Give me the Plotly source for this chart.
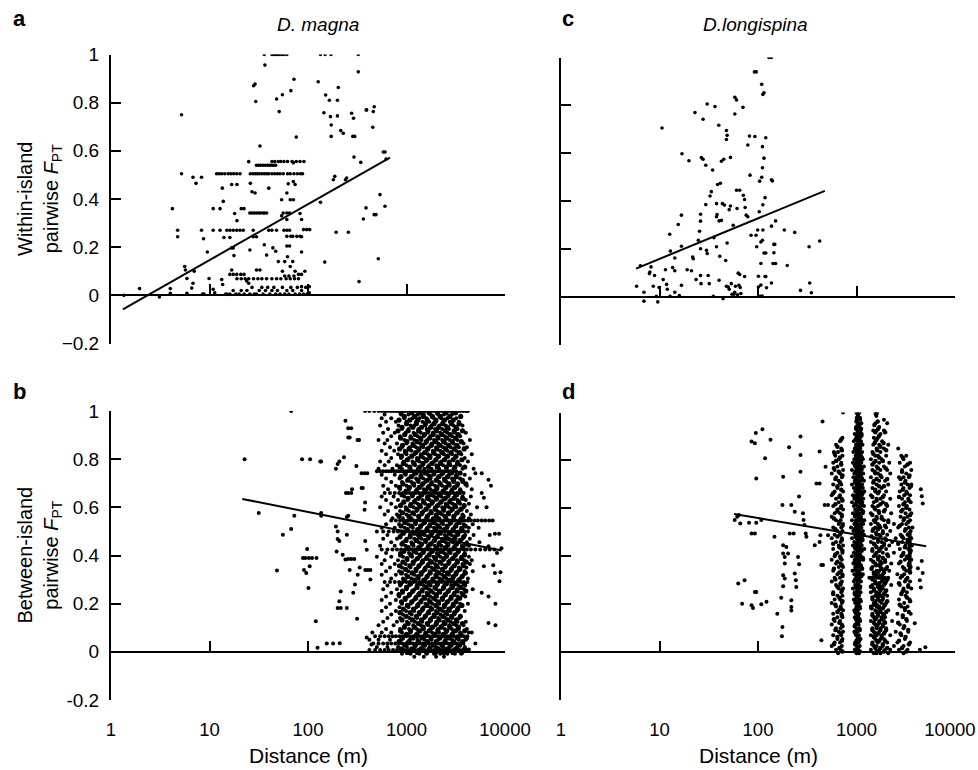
import plotly.graph_objects as go

# ---------------- DATA ----------------
# Panel a: D. magna, within-island (distance m, pairwise F_PT)
a_points = [
    (1.35, 0.0), (1.95, 0.028), (3.1, -0.007), (4.0, 0.028), (4.0, 0.008), (4.2, 0.36), (4.75, 0.27),
    (4.75, 0.243), (5.2, 0.75), (5.2, 0.505), (5.6, 0.12), (5.7, 0.105), (5.9, 0.07), (5.9, 0.008),
    (6.6, 0.03), (6.8, 0.49), (7.3, 0.465), (8.3, 0.49), (6.8, 0.05), (7.0, 0.1), (8.3, 0.27),
    (8.7, 0.235), (9.5, 0.18), (8.5, 0.005), (8.8, 0.005), (9.9, 0.07), (10.9, 0.025), (11.3, 0.01),
    (10.9, 0.36), (12.8, 0.36), (10.9, 0.27), (13.5, 0.445), (13.8, 0.39), (12.8, 0.27), (14, 0.24),
    (13.3, 0.066), (13.6, 0.045), (14.5, 0.004), (15, 0.27), (16.1, 0.27), (17.4, 0.27), (16.1, 0.24),
    (16.8, 0.46), (19, 0.46), (16.8, 0.197), (17.4, 0.197), (17.7, 0.165), (16.1, 0.087), (17.4, 0.087),
    (18.9, 0.087), (20.8, 0.087), (22.4, 0.087), (16.8, 0.105), (18, 0.34), (19, 0.31), (18.9, 0.27),
    (20.4, 0.27), (22, 0.27), (21, 0.36), (22.4, 0.36), (25, 0.555), (26, 0.465), (27, 0.43),
    (29, 0.425), (28, 0.87), (29, 0.877), (29.5, 0.805), (32.5, 0.62), (27.8, 0.243), (30, 0.243),
    (25.7, 0.188), (27.8, 0.27), (30, 0.105), (32.5, 0.105), (23.8, 0.06), (25, 0.05),
    (36, 1.0), (36.5, 0.956), (43, 1.0), (45, 1.0), (47, 1.0), (49, 1.0), (51, 1.0), (54, 1.0), (57, 1.0),
    (61, 1.0), (40, 0.445), (36, 0.21), (38, 0.167), (40, 0.27), (43, 0.27), (48, 0.27), (44, 0.197),
    (47, 0.183), (48, 0.815), (51, 0.763), (55, 0.833), (61, 0.425), (63, 0.463), (54, 0.397),
    (66, 0.397), (71, 0.397), (56, 0.342), (61, 0.342), (65, 0.342), (54, 0.33), (61, 0.315),
    (57, 0.27), (61, 0.27), (65, 0.27), (61, 0.245), (67, 0.245), (61, 0.205), (65, 0.205),
    (71, 0.55), (67, 0.85), (72, 0.897), (76, 0.657), (74, 0.46), (71, 0.472), (70, 0.245),
    (77, 0.245), (83, 0.245), (86, 0.243), (83, 0.34), (86, 0.315), (86, 0.18), (90, 0.273),
    (97, 0.273), (104, 0.273), (93, 0.1), (86, 0.087), (80, 0.087), (86, 0.036), (103, 0.036),
    (103, 0.01), (55, 0.1), (58, 0.14), (62, 0.16), (66, 0.12), (70, 0.14), (74, 0.1), (50, 0.14),
    (58, 0.08), (64, 0.08), (72, 0.08),
    (127, 0.887), (134, 1.0), (149, 1.0), (171, 1.0), (134, 0.386), (145, 0.758), (151, 0.832),
    (148, 0.138), (165, 0.81), (169, 0.742), (172, 0.707), (172, 0.66), (181, 0.48), (187, 0.494),
    (193, 0.262), (199, 0.745), (199, 0.81), (203, 0.863), (215, 0.684), (228, 0.673), (240, 0.48),
    (247, 0.487), (257, 0.262), (277, 0.756), (290, 0.735), (285, 0.66), (298, 0.66), (293, 0.574),
    (324, 1.0), (324, 0.928), (330, 0.057), (343, 0.552), (365, 0.317), (388, 0.363), (390, 0.77),
    (394, 0.77), (455, 0.698), (460, 0.763), (470, 0.783), (470, 0.335), (490, 0.335), (517, 0.152),
    (538, 0.418), (582, 0.595), (605, 0.595), (605, 0.37), (620, 0.566),
]
# horizontal runs of identical F_PT values in panel a: (F_PT, distances)
a_rows = [
    (0.505, [11.8, 12.5, 13.3, 14.3, 15.5, 16.5, 17.6, 18.9, 20.4, 26, 27.5, 29, 30.5, 32, 34, 36, 38,
             40, 43, 46, 49, 52, 56, 62, 66, 72, 78, 84, 88]),
    (0.54, [30, 31.5, 33, 35, 37, 39, 41, 43, 45, 47]),
    (0.556, [43, 46, 50, 53, 57, 62, 69, 76, 83, 91]),
    (0.342, [25.7, 27, 28.5, 30, 31.5, 33, 35, 36, 38]),
    (0.069, [19, 21, 23, 25, 28, 31, 34, 38, 43, 48, 53, 60, 66, 73, 80]),
    (0.005, [15, 16.1, 18.5, 20, 22.5, 25.7, 28.5, 30, 35, 41, 47, 52, 58, 64, 74, 82, 90, 98]),
    (0.02, [17.4, 21, 24, 32, 37, 43, 49, 61, 70, 86]),
    (0.033, [27, 34, 39, 45, 55, 67, 78, 95]),
]
a_fit_x = [1.32, 680]
a_fit_y = [-0.058, 0.572]

# Panel c: D. longispina, within-island
c_points = [
    (5.85, 0.045), (6.4, 0.131), (6.95, 0.02), (6.95, -0.017), (8.0, 0.105), (7.9, 0.098), (8.2, 0.126),
    (8.65, 0.045), (8.9, 0.09), (9.3, 0.003), (9.6, -0.02), (9.9, 0.04), (10.6, 0.706), (10.9, 0.073),
    (11.5, 0.114), (11.8, 0.053), (12.0, 0.033), (12.7, 0.262), (12.8, 0.003), (12.9, 0.192),
    (13.6, 0.123), (14.3, 0.11), (14.3, 0.163), (14.3, 0.02), (15.5, 0.303), (15.9, 0.006),
    (16.7, 0.342), (16.7, 0.212), (16.7, 0.049), (16.9, 0.598), (19.1, 0.114), (19.9, 0.569),
    (21.1, 0.11), (21.7, 0.167), (22, 0.16), (22.9, 0.77), (23.5, 0.073), (24.8, 0.237), (25.5, 0.275),
    (26.1, 0.346), (26.1, 0.317), (26.1, 0.202), (26.1, 0.09), (26.4, 0.056), (26.6, 0.582),
    (27.7, 0.575), (27.7, 0.742), (29.5, 0.55), (29.5, 0.386), (30, 0.195), (30.5, 0.182),
    (30.5, 0.806), (31.2, 0.09), (32, 0.056), (32.6, 0.422), (33.6, 0.44), (34.6, 0.53), (35.7, 0.248),
    (35.2, 0.003), (36.6, 0.795), (37.9, 0.335), (38.4, 0.345), (37.9, 0.39), (37.9, 0.21),
    (38.9, 0.47), (41.5, 0.475), (40, 0.717), (40.3, 0.318), (42.5, 0.32), (40.3, 0.07), (40.9, 0.17),
    (42.5, 0.567), (44.9, 0.575), (43.5, 0.39), (45.6, 0.384), (44.2, -0.007), (47, 0.153),
    (47.8, 0.045), (47.8, 0.695), (48.6, 0.675), (47.8, 0.658), (48.6, 0.226), (50, 0.042),
    (51, 0.033), (51, 0.365), (52.5, 0.38), (52.5, 0.583), (53.6, 0.056), (54.4, 0.012), (56, 0.3),
    (57, 0.012), (59, 0.045), (58.2, 0.834), (60.5, 0.823), (58.2, 0.764), (60.5, 0.446),
    (65.2, 0.446), (61.3, 0.37), (63, 0.1), (65.2, 0.094), (64, 0.049), (66, 0.04), (70.4, 0.792),
    (71, 0.425), (73, 0.407), (73.1, 0.086), (74, 0.374), (75.9, 0.342), (78.8, 0.335), (78.8, 0.635),
    (81.9, 0.672), (83, 0.509), (85, 0.258), (92, 0.94), (96, 0.94), (93, 0.67), (95.5, 0.258),
    (97, 0.21), (99.2, 0.28), (101, 0.042), (101, 0.087), (103, 0.356), (104, 0.484), (107, 0.23),
    (107, 0.14), (107, 0.05), (109, 0.888), (111, 0.628), (109, 0.5), (111, 0.54), (112, 0.385),
    (112, 0.28), (111, 0.237), (112, 0.846), (115, 0.853), (115, 0.58), (120, 0.665), (115, 0.184),
    (120, 0.184), (118, 0.415), (118, 0.086), (120, 0.086), (122, 0.039), (129, 1.0), (137, 1.0),
    (137, 0.49), (140, 0.485), (137, 0.296), (137, 0.059), (142, 0.14), (151, 0.14), (145, 0.22),
    (148, 0.22), (145, 0.185), (151, 0.318), (185, 0.28), (198, 0.132), (236, 0.27), (270, 0.028),
    (330, 0.21), (335, 0.059), (348, 0.018), (423, 0.234), (105, 0.003), (110, 0.004), (67, 0.015),
    (62, 0.01), (58, 0.02),
]
c_fit_x = [5.77, 477]
c_fit_y = [0.119, 0.443]

# Panel b: D. magna, between-island
b_points = [
    (22.7, 0.8), (31.6, 0.576), (48.4, 0.338), (55.6, 0.486), (67.5, 1.0), (67.5, 0.51), (72.6, 0.565),
    (87, 0.8), (105, 0.8), (89, 0.39), (94, 0.39), (102, 0.39), (110, 0.39), (98, 0.427), (91, 0.34),
    (96, 0.327), (104, 0.355), (122, 0.39), (101, 0.265), (120, 0.127), (125, 0.017), (133, 0.79),
    (136, 0.79), (136, 0.576), (136, 0.565), (155, 0.035), (180, 0.035), (210, 0.036), (192, 0.76),
    (200, 0.78), (208, 0.79), (192, 0.52), (200, 0.5), (195, 0.417), (200, 0.468), (208, 0.46),
    (200, 0.182), (215, 0.182), (208, 0.21), (215, 0.25), (225, 0.403), (232, 0.808), (240, 0.383),
    (240, 0.96), (248, 0.182), (256, 0.928), (275, 0.928), (256, 0.89), (265, 0.89), (243, 0.66),
    (256, 0.66), (248, 0.56), (256, 0.565), (248, 0.486), (256, 0.385), (275, 0.385), (295, 0.385),
    (265, 0.34), (275, 0.66), (280, 0.675), (288, 0.245), (310, 0.772), (315, 0.137), (318, 0.88),
    (330, 0.88), (320, 0.32), (300, 0.28), (350, 0.742), (375, 0.742), (400, 0.742), (350, 0.68),
    (360, 0.68), (375, 0.59), (380, 0.62), (381, 0.46), (395, 0.424), (381, 0.34), (405, 0.34),
    (430, 0.34), (335, 0.35), (395, 0.06), (420, 0.05), (440, 0.03), (430, 0.3), (450, 0.08),
    (5000, 0.742), (5800, 0.742), (6800, 0.715), (7200, 0.69), (5800, 0.66), (6100, 0.64), (6500, 0.6),
    (7900, 0.49), (8700, 0.49), (6800, 0.438), (8300, 0.41), (6100, 0.355), (7900, 0.327),
    (8800, 0.293), (5800, 0.245), (6800, 0.23), (8000, 0.2), (6800, 0.12), (4600, 0.08), (5000, 0.035),
    (4300, 0.01), (8000, 0.11), (9200, 0.43), (9000, 0.33), (7600, 0.36),
]
b_rows = [
    (1.0, [380, 420, 470, 520, 560, 600, 640, 690, 740, 790, 840, 900, 960, 1020, 1090, 1160, 1240, 1320,
           1400, 1490, 1580, 1680, 1790, 1900, 2020, 2150, 2290, 2430, 2580, 2740, 2910, 3100, 3300, 3500,
           3750, 4000, 4200]),
    (0.985, [600, 880, 1050, 1300, 1500, 1750, 2100, 2400, 2900]),
    (0.97, [560, 700, 950, 1150, 1350, 1600, 1900, 2250, 2600, 3200]),
    (0.955, [620, 780, 1000, 1250, 1450, 1700, 2000, 2350, 2750, 3400]),
    (0.94, [540, 830, 1100, 1200, 1550, 1800, 2150, 2500, 3000, 3700]),
    (0.925, [650, 900, 1050, 1320, 1600, 1950, 2300, 2700, 3300]),
    (0.91, [580, 760, 980, 1180, 1400, 1650, 1850, 2200, 2600, 3100, 4000]),
    (0.895, [700, 860, 1100, 1300, 1500, 1750, 2050, 2450, 2900, 3500]),
    (0.88, [520, 640, 950, 1200, 1420, 1620, 1900, 2300, 2750, 3300, 4400]),
    (0.865, [600, 800, 1000, 1150, 1380, 1550, 1800, 2100, 2500, 3000, 3800]),
    (0.85, [680, 900, 1080, 1250, 1480, 1700, 2000, 2350, 2800, 3400, 4100]),
    (0.835, [560, 750, 960, 1120, 1320, 1600, 1850, 2200, 2600, 3200]),
    (0.82, [620, 820, 1000, 1200, 1400, 1650, 1950, 2400, 2900, 3600, 4600]),
    (0.805, [700, 880, 1060, 1280, 1500, 1750, 2050, 2500, 3100, 3900]),
    (0.79, [540, 660, 940, 1150, 1350, 1580, 1900, 2250, 2700, 3300, 4200]),
    (0.775, [600, 800, 1000, 1220, 1450, 1700, 2000, 2350, 2800, 3500]),
    (0.76, [520, 720, 900, 1100, 1300, 1520, 1800, 2150, 2550, 3000, 3700, 4800]),
    (0.75, [500, 540, 580, 620, 660, 700, 750, 800, 850, 900, 960, 1020, 1080, 1150, 1220, 1300, 1380,
            1460, 1550, 1650, 1750, 1850, 1960, 2080, 2200, 2350, 2500, 2650, 2800, 3000, 3200]),
    (0.735, [560, 760, 980, 1180, 1400, 1650, 1900, 2250, 2700, 3200, 3900]),
    (0.72, [620, 850, 1050, 1250, 1480, 1750, 2050, 2400, 2900, 3500, 4400]),
    (0.705, [700, 900, 1120, 1320, 1550, 1800, 2150, 2550, 3000, 3700]),
    (0.69, [580, 780, 1000, 1200, 1420, 1680, 1950, 2300, 2750, 3300, 4100]),
    (0.675, [650, 860, 1060, 1280, 1500, 1750, 2050, 2450, 2900, 3500, 4600]),
    (0.66, [600, 680, 760, 840, 920, 1000, 1080, 1160, 1250, 1340, 1440, 1540, 1650, 1760, 1880, 2000,
            2150, 2300, 2450, 2600, 2800, 3000, 3250, 3500, 3800]),
    (0.645, [560, 740, 950, 1150, 1380, 1620, 1900, 2250, 2650, 3100, 3700, 4500]),
    (0.63, [620, 820, 1030, 1230, 1460, 1720, 2000, 2350, 2800, 3300, 4000]),
    (0.615, [700, 900, 1100, 1300, 1550, 1820, 2150, 2500, 2950, 3500, 4300]),
    (0.6, [540, 780, 980, 1180, 1400, 1650, 1950, 2300, 2700, 3200, 3800, 5200]),
    (0.585, [650, 860, 1060, 1270, 1500, 1760, 2050, 2400, 2850, 3400, 4100]),
    (0.57, [600, 800, 1000, 1200, 1430, 1680, 1980, 2300, 2700, 3150, 3700, 4500]),
    (0.555, [720, 920, 1120, 1340, 1580, 1850, 2150, 2550, 3000, 3550, 4300]),
    (0.545, [700, 780, 860, 940, 1020, 1100, 1190, 1280, 1380, 1480, 1590, 1700, 1820, 1950, 2090, 2240,
             2400, 2570, 2750, 2950, 3150, 3400, 3650, 3900, 4200, 4500, 4900, 5300, 5800, 6300, 6900, 7500]),
    (0.53, [620, 840, 1040, 1240, 1460, 1720, 2000, 2350, 2750, 3200, 3800, 4700]),
    (0.515, [560, 760, 960, 1160, 1380, 1620, 1900, 2200, 2600, 3050, 3600, 4300, 5400]),
    (0.5, [500, 580, 660, 740, 820, 900, 980, 1060, 1150, 1250, 1350, 1460, 1580, 1700, 1830, 1970, 2120,
           2280, 2450, 2640, 2850, 3080, 3320, 3580, 3860, 4200]),
    (0.485, [640, 880, 1080, 1290, 1520, 1780, 2080, 2450, 2850, 3350, 3950, 4800, 7000]),
    (0.47, [580, 800, 1000, 1200, 1420, 1680, 1960, 2300, 2700, 3150, 3700, 4400]),
    (0.455, [700, 920, 1120, 1330, 1570, 1830, 2150, 2500, 2950, 3450, 4100, 5500]),
    (0.44, [540, 760, 980, 1180, 1400, 1650, 1930, 2260, 2650, 3100, 3650, 4300]),
    (0.425, [560, 640, 720, 800, 880, 960, 1040, 1130, 1220, 1320, 1420, 1530, 1650, 1780, 1920, 2070,
             2230, 2400, 2580, 2780, 3000, 3250, 3500, 3800, 4100, 4500, 5000, 5600, 6300, 7000, 7800]),
    (0.41, [620, 860, 1060, 1260, 1490, 1750, 2040, 2400, 2800, 3300, 3900]),
    (0.395, [500, 700, 920, 1140, 1360, 1600, 1880, 2200, 2580, 3050, 3600, 4300]),
    (0.38, [600, 820, 1020, 1230, 1460, 1720, 2000, 2350, 2750, 3250, 3850, 4600]),
    (0.365, [560, 760, 980, 1180, 1400, 1660, 1950, 2280, 2680, 3150, 3700, 4400]),
    (0.35, [680, 900, 1100, 1310, 1550, 1800, 2100, 2480, 2900, 3400, 4050]),
    (0.335, [620, 840, 1040, 1250, 1480, 1730, 2020, 2380, 2800, 3300, 3900, 4700]),
    (0.32, [560, 780, 990, 1200, 1420, 1670, 1960, 2300, 2700, 3200, 3800]),
    (0.305, [700, 920, 1120, 1330, 1570, 1840, 2160, 2540, 2980, 3500, 4200]),
    (0.29, [600, 680, 760, 840, 920, 1000, 1080, 1170, 1260, 1360, 1460, 1570, 1690, 1820, 1960, 2110,
            2270, 2440, 2620, 2820, 3040, 3280, 3540, 3820, 4150]),
    (0.275, [640, 860, 1060, 1270, 1500, 1760, 2060, 2420, 2840, 3350, 3950]),
    (0.26, [580, 800, 1000, 1210, 1440, 1700, 2000, 2340, 2750, 3250, 3850, 4700]),
    (0.245, [700, 920, 1130, 1350, 1600, 1870, 2200, 2580, 3050, 3600]),
    (0.23, [620, 840, 1040, 1250, 1480, 1740, 2040, 2400, 2820, 3320, 3950]),
    (0.215, [560, 780, 980, 1190, 1420, 1680, 1980, 2330, 2740, 3220]),
    (0.2, [680, 900, 1100, 1320, 1560, 1830, 2150, 2520, 2960, 3500, 4200]),
    (0.185, [620, 850, 1050, 1260, 1490, 1750, 2060, 2420, 2850, 3350]),
    (0.17, [560, 780, 990, 1200, 1430, 1690, 1990, 2340, 2760, 3250, 3900]),
    (0.155, [700, 920, 1130, 1350, 1600, 1880, 2210, 2600, 3060]),
    (0.14, [640, 860, 1070, 1280, 1520, 1790, 2100, 2480, 2920, 3450]),
    (0.125, [580, 800, 1010, 1220, 1450, 1710, 2010, 2370, 2800, 3300, 4000]),
    (0.11, [520, 740, 960, 1170, 1400, 1660, 1960, 2310, 2720, 3200, 3800]),
    (0.095, [620, 860, 1060, 1270, 1500, 1760, 2070, 2440, 2880, 3400, 4100]),
    (0.08, [560, 700, 900, 1100, 1310, 1550, 1820, 2140, 2520, 2970, 3500, 4300]),
    (0.065, [480, 540, 600, 660, 720, 780, 850, 920, 1000, 1080, 1170, 1260, 1360, 1460, 1570, 1690, 1820,
             1960, 2110, 2270, 2440, 2620, 2820, 3040, 3280, 3540, 3820, 4150]),
    (0.05, [520, 680, 880, 1080, 1290, 1520, 1790, 2100, 2470, 2900, 3400, 4000]),
    (0.035, [460, 520, 580, 640, 700, 770, 840, 910, 990, 1070, 1160, 1250, 1350, 1450, 1560, 1680, 1810,
             1950, 2100, 2260, 2430, 2610, 2810, 3020, 3250, 3500, 3780]),
    (0.02, [500, 640, 820, 1010, 1220, 1450, 1710, 2000, 2350, 2750, 3250, 3900]),
    (0.008, [420, 480, 540, 600, 660, 730, 800, 870, 950, 1030, 1120, 1210, 1310, 1410, 1520, 1640, 1770,
             1910, 2060, 2220, 2390, 2570, 2770, 2980, 3210, 3460, 3730, 4050]),
    (-0.008, [900, 1100, 1350, 1600, 1900, 2200, 2600, 3100, 3600]),
    (-0.02, [1200, 1500, 2000, 2400]),
]
# extra points of the dense core of panel b, between the rows above
b_core_rows = [
    (0.9925, [880, 1130, 1380, 1700, 2060, 2520, 3150]), (0.9775, [950, 1210, 1480, 1830, 2200, 2750, 3550]),
    (0.9625, [840, 1080, 1300, 1620, 1990, 2430, 2980]), (0.9475, [1000, 1260, 1560, 1900, 2330, 2860, 3420]),
    (0.9325, [900, 1160, 1420, 1760, 2120, 2600, 3200]), (0.9175, [820, 1040, 1330, 1650, 2010, 2480, 3050, 3700]),
    (0.9025, [960, 1230, 1520, 1860, 2270, 2790, 3350]), (0.8875, [870, 1110, 1390, 1720, 2090, 2560, 3150]),
    (0.8725, [1010, 1280, 1590, 1960, 2390, 2920, 3600]), (0.8575, [910, 1170, 1450, 1790, 2180, 2680, 3250]),
    (0.8425, [850, 1060, 1340, 1640, 2030, 2500, 3050, 3850]), (0.8275, [980, 1240, 1530, 1880, 2300, 2830, 3450]),
    (0.8125, [890, 1130, 1410, 1730, 2120, 2610, 3180]), (0.7975, [1020, 1300, 1610, 1990, 2430, 2970, 3650]),
    (0.7825, [930, 1190, 1470, 1810, 2210, 2710, 3300]), (0.7675, [860, 1080, 1360, 1670, 2060, 2540, 3100, 3900]),
    (0.7425, [970, 1250, 1550, 1900, 2330, 2860, 3500]), (0.7275, [880, 1120, 1400, 1740, 2130, 2620, 3200]),
    (0.7125, [1030, 1310, 1620, 2000, 2450, 3000, 3700]), (0.6975, [920, 1180, 1460, 1800, 2200, 2700, 3300, 4000]),
    (0.6825, [850, 1070, 1350, 1660, 2040, 2510, 3080]), (0.6675, [990, 1260, 1560, 1920, 2350, 2880, 3520]),
    (0.6525, [900, 1150, 1430, 1760, 2150, 2650, 3230]), (0.6375, [1040, 1320, 1640, 2020, 2470, 3030, 3720]),
    (0.6225, [940, 1200, 1490, 1830, 2240, 2750, 3380]), (0.6075, [870, 1100, 1370, 1690, 2070, 2550, 3120, 3850]),
    (0.5925, [1000, 1280, 1580, 1950, 2380, 2920, 3580]), (0.5775, [910, 1160, 1440, 1780, 2170, 2670, 3270]),
    (0.5625, [840, 1060, 1330, 1630, 2000, 2470, 3020, 3750]), (0.5375, [960, 1230, 1520, 1870, 2290, 2810, 3430]),
    (0.5225, [880, 1120, 1390, 1720, 2100, 2590, 3170, 3950]), (0.5075, [1020, 1300, 1610, 1980, 2420, 2970, 3640]),
    (0.4925, [930, 1190, 1470, 1810, 2210, 2720, 3320]), (0.4775, [860, 1090, 1360, 1680, 2050, 2530, 3090, 3800]),
    (0.4625, [990, 1260, 1560, 1920, 2340, 2870, 3510]), (0.4475, [900, 1150, 1420, 1750, 2140, 2640, 3220, 4000]),
    (0.4325, [1040, 1330, 1650, 2030, 2480, 3040, 3730]), (0.4175, [940, 1200, 1490, 1830, 2240, 2750, 3370]),
    (0.4025, [870, 1110, 1380, 1700, 2080, 2560, 3130, 3880]), (0.3875, [1010, 1290, 1590, 1960, 2400, 2940, 3600]),
    (0.3725, [920, 1170, 1450, 1790, 2190, 2690, 3290, 4050]), (0.3575, [850, 1080, 1340, 1650, 2020, 2490, 3050, 3760]),
    (0.3425, [980, 1250, 1540, 1900, 2320, 2850, 3480]), (0.3275, [890, 1140, 1410, 1740, 2120, 2610, 3190, 3950]),
    (0.3125, [1030, 1310, 1620, 2000, 2440, 2990, 3670]), (0.2975, [950, 1210, 1500, 1850, 2260, 2770, 3400]),
    (0.2825, [870, 1100, 1370, 1690, 2060, 2540, 3110, 3840]), (0.2675, [1000, 1280, 1580, 1950, 2380, 2920, 3570]),
    (0.2525, [910, 1160, 1440, 1770, 2170, 2660, 3260, 4000]), (0.2375, [840, 1070, 1330, 1640, 2010, 2480, 3030, 3740]),
    (0.2225, [970, 1240, 1530, 1890, 2310, 2830, 3460]), (0.2075, [890, 1130, 1400, 1730, 2110, 2600, 3180]),
    (0.1925, [1020, 1300, 1610, 1990, 2430, 2980, 3650]), (0.1775, [930, 1180, 1460, 1800, 2200, 2700, 3310]),
    (0.1625, [860, 1090, 1350, 1670, 2040, 2520, 3080]), (0.1475, [990, 1260, 1550, 1910, 2340, 2870, 3520]),
    (0.1325, [900, 1150, 1420, 1750, 2140, 2630, 3220]), (0.1175, [1040, 1320, 1630, 2010, 2460, 3020, 3700]),
    (0.1025, [950, 1200, 1480, 1830, 2240, 2750, 3370]), (0.0875, [870, 1100, 1370, 1700, 2080, 2560, 3140, 3900]),
    (0.0725, [1000, 1270, 1570, 1940, 2370, 2910, 3560]), (0.0575, [910, 1160, 1440, 1780, 2180, 2680, 3280, 4050]),
    (0.0425, [840, 1060, 1320, 1630, 2000, 2460, 3010, 3720]), (0.0275, [970, 1230, 1520, 1880, 2300, 2820, 3450]),
    (0.0125, [890, 1130, 1400, 1720, 2100, 2590, 3170, 3900]), (-0.0025, [1020, 1290, 1600, 1970, 2410, 2960, 3630]),
]
b_fit_x = [21.5, 9250]
b_fit_y = [0.635, 0.421]

# Panel d: D. longispina, between-island
d_points = [
    (61.5, 0.565), (58, 0.551), (66, 0.537), (64, 0.572), (63, 0.286), (73, 0.3), (69, 0.202), (86, 0.195),
    (89, 0.184), (81, 0.54), (96, 0.54), (86, 0.495), (93, 0.495), (86, 0.879), (93, 0.872), (95, 0.914),
    (96, 0.725), (93, 0.251), (96, 0.251), (108, 0.551), (108, 0.2), (122, 0.21), (111, 0.93),
    (118, 0.809), (134, 0.886), (147, 0.481), (157, 0.16), (172, 0.227), (177, 0.105), (175, 0.066),
    (177, 0.614), (180, 0.732), (180, 0.446), (187, 0.397), (180, 0.411), (194, 0.439), (202, 0.411),
    (187, 0.37), (180, 0.321), (187, 0.307), (180, 0.275), (207, 0.855), (210, 0.495), (230, 0.495),
    (218, 0.614), (236, 0.586), (218, 0.216), (218, 0.188), (218, 0.174), (236, 0.328), (242, 0.3),
    (245, 0.272), (255, 0.397), (261, 0.367), (261, 0.649), (270, 0.9), (270, 0.823), (270, 0.753),
    (286, 0.579), (290, 0.551), (296, 0.53), (305, 0.495), (310, 0.481), (377, 0.446), (392, 0.704),
    (422, 0.704), (422, 0.837), (430, 0.488), (422, 0.46), (452, 0.962), (440, 0.049), (440, 0.363),
    (457, 0.363), (475, 0.614), (514, 0.614), (485, 0.774), (514, 0.488),
    (4600, 0.65), (4700, 0.62), (4500, 0.68), (4200, 0.35), (4600, 0.38), (4400, 0.3), (5000, 0.02),
    (4400, 0.01), (3900, 0.12), (4700, 0.33), (4500, 0.27),
]
d_rows = [
    (1.0, [730, 1000, 1070, 1560, 1620]), (0.985, [1040, 1590]), (0.97, [1010, 1090, 1900]),
    (0.955, [1050, 1120, 1560, 2050]), (0.94, [990, 1060, 1700]), (0.925, [1020, 1100, 1480, 1600, 1900]),
    (0.91, [960, 1050, 1130, 1750]), (0.895, [720, 1000, 1080, 1500, 1650]),
    (0.88, [680, 940, 1030, 1110, 1560, 1820]), (0.865, [620, 990, 1060, 1150, 1480, 1700, 2100]),
    (0.85, [700, 960, 1020, 1090, 1600, 1900, 2650]), (0.835, [590, 650, 930, 1000, 1070, 1140, 1450, 1750]),
    (0.82, [610, 720, 980, 1040, 1110, 1550, 1650, 2000, 2850, 3200]),
    (0.805, [660, 950, 1010, 1080, 1160, 1400, 1800, 3000]),
    (0.79, [580, 700, 920, 990, 1050, 1120, 1500, 1700, 2150, 2750, 3500]),
    (0.775, [640, 970, 1030, 1100, 1190, 1600, 1900, 3100]),
    (0.76, [600, 730, 900, 1000, 1060, 1130, 1450, 1750, 2050, 2900, 3600]),
    (0.745, [560, 680, 950, 1020, 1090, 1170, 1550, 1650, 2200, 3200]),
    (0.73, [620, 710, 930, 990, 1050, 1120, 1400, 1800, 2700, 3000, 3400]),
    (0.715, [660, 960, 1030, 1100, 1190, 1500, 1700, 1950, 3150]),
    (0.7, [580, 700, 900, 1000, 1070, 1140, 1600, 2100, 2850, 3300, 3600]),
    (0.685, [640, 940, 1010, 1080, 1160, 1450, 1800, 3000, 3450]),
    (0.67, [600, 730, 970, 1040, 1110, 1200, 1550, 1700, 2000, 2750, 3200]),
    (0.655, [560, 680, 920, 990, 1060, 1130, 1400, 1900, 3050, 3500]),
    (0.64, [620, 710, 950, 1020, 1090, 1170, 1600, 1750, 2200, 2900, 3350]),
    (0.625, [660, 900, 1000, 1070, 1140, 1500, 1850, 3100, 3550]),
    (0.61, [580, 700, 940, 1030, 1100, 1190, 1450, 1650, 2050, 2700, 3250]),
    (0.595, [640, 730, 970, 1050, 1120, 1550, 1950, 2950, 3450]),
    (0.58, [600, 680, 920, 1010, 1080, 1160, 1400, 1700, 2250, 3150, 3600]),
    (0.565, [560, 710, 960, 1040, 1110, 1600, 1800, 2800, 3300]),
    (0.55, [620, 690, 900, 990, 1060, 1130, 1200, 1500, 1900, 2100, 3000, 3500]),
    (0.535, [660, 730, 950, 1020, 1090, 1170, 1400, 1650, 2400, 2900, 3200]),
    (0.52, [580, 700, 880, 980, 1050, 1120, 1550, 1750, 2000, 2650, 3400, 3700]),
    (0.505, [640, 720, 930, 1010, 1080, 1160, 1450, 1850, 2200, 3100, 3550]),
    (0.49, [600, 680, 970, 1040, 1110, 1190, 1600, 1700, 2050, 2800, 3300]),
    (0.475, [560, 710, 900, 1000, 1070, 1140, 1500, 1950, 2500, 3000, 3600]),
    (0.46, [620, 690, 950, 1030, 1100, 1400, 1650, 1800, 2300, 2900, 3450]),
    (0.445, [660, 730, 920, 990, 1060, 1130, 1550, 1900, 2150, 3150, 3650]),
    (0.43, [580, 700, 970, 1050, 1120, 1200, 1450, 1750, 2000, 2750, 3350]),
    (0.415, [640, 720, 940, 1010, 1080, 1600, 1850, 2400, 3000, 3500]),
    (0.4, [600, 680, 900, 980, 1040, 1110, 1500, 1700, 2100, 2850, 3250]),
    (0.385, [560, 710, 960, 1030, 1100, 1170, 1400, 1650, 1950, 3100, 3600]),
    (0.37, [620, 690, 930, 1000, 1070, 1550, 1800, 2250, 2700, 3400]),
    (0.355, [660, 730, 970, 1050, 1120, 1450, 1750, 2050, 2950, 3550]),
    (0.34, [580, 700, 910, 990, 1060, 1600, 1700, 1900, 2150, 3200]),
    (0.325, [640, 720, 950, 1020, 1090, 1160, 1500, 1850, 2600, 3050]),
    (0.31, [600, 680, 1000, 1080, 1350, 1420, 1500, 1580, 1660, 1750, 1850, 1950, 2100, 2800, 3300]),
    (0.295, [560, 710, 940, 1040, 1110, 1550, 1800, 2000, 3100, 3500]),
    (0.28, [620, 690, 970, 1050, 1450, 1650, 1900, 2250, 2750, 3350]),
    (0.265, [660, 730, 920, 1010, 1080, 1500, 1700, 1850, 3000, 3600]),
    (0.25, [580, 700, 960, 1030, 1100, 1400, 1600, 1950, 2900, 3250]),
    (0.235, [640, 720, 990, 1060, 1550, 1750, 2050, 3150]),
    (0.22, [600, 680, 940, 1020, 1090, 1450, 1650, 1850, 2700, 3450]),
    (0.205, [560, 710, 970, 1050, 1500, 1800, 2000, 3050]),
    (0.19, [620, 690, 1000, 1080, 1400, 1600, 1700, 1900, 2850, 3300]),
    (0.175, [660, 730, 950, 1030, 1550, 1750, 2100, 3100]),
    (0.16, [580, 700, 990, 1060, 1450, 1650, 1850, 2600, 3550]),
    (0.145, [640, 720, 960, 1040, 1500, 1600, 1800, 1950, 2950]),
    (0.13, [600, 680, 1010, 1090, 1400, 1700, 1900, 2300, 3250]),
    (0.115, [560, 710, 970, 1050, 1550, 1650, 1850, 2750]),
    (0.1, [620, 690, 1000, 1070, 1450, 1600, 1750, 2000, 3000]),
    (0.085, [660, 730, 950, 1030, 1500, 1700, 1950, 2500, 3350]),
    (0.07, [580, 700, 990, 1060, 1400, 1600, 1800, 2200, 2850]),
    (0.055, [640, 720, 1020, 1100, 1550, 1750, 1900, 3100]),
    (0.04, [600, 680, 970, 1050, 1450, 1650, 2050, 2600, 3500]),
    (0.025, [560, 710, 1000, 1080, 1500, 1600, 1850, 2400, 3000]),
    (0.01, [620, 690, 960, 1040, 1400, 1700, 1950, 2200, 2700, 3300]),
    (-0.005, [650, 1000, 1060, 1500, 1600, 1750, 2100, 3000]),
]
# extra points of the dense columns of panel d, between the rows above
d_core_rows = [
    (0.9925, [1030, 1580]), (0.9775, [1080, 1010]), (0.9625, [1000, 1640]), (0.9475, [1070, 1030, 1520]),
    (0.9325, [990, 1110, 1660]), (0.9175, [1040, 1080, 1550, 1950]), (0.9025, [1010, 1120, 1700]),
    (0.8875, [700, 980, 1060, 1600]), (0.8725, [1050, 1100, 1530, 1880]), (0.8575, [640, 1000, 1080, 1750]),
    (0.8425, [710, 970, 1040, 1620, 2000]), (0.8275, [600, 1020, 1090, 1480]),
    (0.8125, [680, 990, 1060, 1130, 1700, 2950]), (0.7975, [620, 1040, 1100, 1560, 1850]),
    (0.7825, [700, 960, 1070, 1450, 3300]), (0.7675, [590, 1010, 1120, 1650, 1980]),
    (0.7525, [660, 980, 1050, 1530, 2900]), (0.7375, [720, 1030, 1090, 1750, 3450]),
    (0.7225, [610, 1000, 1140, 1600, 2050, 2800]), (0.7075, [680, 970, 1060, 1480, 3100]),
    (0.6925, [640, 1020, 1100, 1700, 1900, 3550]), (0.6775, [700, 990, 1070, 1550, 2950]),
    (0.6625, [580, 1040, 1150, 1650, 3250]), (0.6475, [670, 960, 1050, 1450, 1850, 2700]),
    (0.6325, [720, 1010, 1090, 1600, 3400]), (0.6175, [610, 980, 1130, 1750, 2000, 3000]),
    (0.6025, [690, 1030, 1070, 1520, 3200]), (0.5875, [640, 1000, 1160, 1680, 1900, 2850]),
    (0.5725, [710, 970, 1060, 1450, 3500]), (0.5575, [590, 1050, 1100, 1600, 1800, 3050]),
    (0.5425, [670, 990, 1140, 1550, 2100, 3350]), (0.5275, [720, 1020, 1080, 1700, 1950, 2750]),
    (0.5125, [610, 960, 1050, 1480, 1650, 3150]), (0.4975, [690, 1010, 1120, 1580, 1850, 3450]),
    (0.4825, [640, 980, 1070, 1420, 1750, 2900]), (0.4675, [710, 1040, 1150, 1650, 2000, 3300]),
    (0.4525, [580, 1000, 1090, 1500, 1900, 2650]), (0.4375, [670, 970, 1060, 1600, 1800, 3100]),
    (0.4225, [720, 1030, 1130, 1450, 1700, 3550]), (0.4075, [610, 990, 1080, 1550, 2050, 2950]),
    (0.3925, [690, 1020, 1160, 1650, 1850, 3250]), (0.3775, [640, 960, 1050, 1480, 1750, 1950, 2800]),
    (0.3625, [710, 1010, 1100, 1580, 1700, 3400]), (0.3475, [590, 980, 1140, 1420, 1800, 2000, 3050]),
    (0.3325, [670, 1040, 1070, 1500, 1650, 1900, 3500]), (0.3175, [720, 1000, 1120, 1600, 1750, 2900]),
    (0.3025, [610, 970, 1060, 1450, 1850, 2050, 3200]), (0.2875, [690, 1030, 1550, 1700, 1950, 2700]),
    (0.2725, [640, 990, 1090, 1400, 1650, 1800, 3350]), (0.2575, [710, 1020, 1500, 1750, 2000, 3000]),
    (0.2425, [580, 960, 1060, 1600, 1700, 1900, 2850]), (0.2275, [670, 1010, 1450, 1650, 1850, 3250]),
    (0.2125, [720, 980, 1100, 1550, 1750, 2050, 3500]), (0.1975, [610, 1040, 1500, 1600, 1950, 2750]),
    (0.1825, [690, 1000, 1080, 1420, 1700, 1850, 3100]), (0.1675, [640, 970, 1600, 1750, 2000, 3400]),
    (0.1525, [710, 1030, 1450, 1650, 1900, 2950]), (0.1375, [590, 990, 1070, 1550, 1800, 3200]),
    (0.1225, [670, 1020, 1500, 1700, 1950, 2650]), (0.1075, [720, 960, 1600, 1850, 3050]),
    (0.0925, [610, 1010, 1080, 1450, 1750, 2000, 3350]), (0.0775, [690, 980, 1550, 1650, 1900, 2800]),
    (0.0625, [640, 1040, 1500, 1800, 3150]), (0.0475, [710, 1000, 1060, 1600, 1700, 1950, 2700]),
    (0.0325, [590, 970, 1450, 1850, 3400]), (0.0175, [670, 1030, 1550, 1750, 2050, 2900]),
    (0.0025, [720, 990, 1080, 1600, 1900, 3200]),
]
# a short vertical run of points at one distance in panel d: (distance, F_PT values)
d_column = (3470, [0.34, 0.35, 0.36, 0.37, 0.38, 0.39, 0.4, 0.41, 0.42, 0.43, 0.44, 0.45, 0.46, 0.47, 0.48, 0.49])
d_fit_x = [57, 5100]
d_fit_y = [0.576, 0.442]

x_tickvals = [1, 10, 100, 1000, 10000]
x_ticktext = ["1", "10", "100", "1000", "10000"]
y_tickvals = [-0.2, 0, 0.2, 0.4, 0.6, 0.8, 1]
y_ticktext_top = ["\u22120.2", "0", "0.2", "0.4", "0.6", "0.8", "1"]
y_ticktext_bottom = ["-0.2", "0", "0.2", "0.4", "0.6", "0.8", "1"]


def collect(points, *row_sets):
    xs = [p[0] for p in points]
    ys = [p[1] for p in points]
    for rows in row_sets:
        for yv, ds in rows:
            xs += list(ds)
            ys += [yv] * len(ds)
    return xs, ys


d_main = collect(d_points, d_rows)
d_main = (d_main[0] + [d_column[0]] * len(d_column[1]), d_main[1] + list(d_column[1]))

# ---------------- LAYOUT ----------------
W, H = 978, 770
FONT = "Liberation Sans, Arial, Helvetica, sans-serif"
Y_MIN, Y_MAX = -0.2, 1.0

# pixel boxes of the four plot areas: (left, right, top, bottom)
boxes = {
    "a": (111, 505, 54.5, 343.5),
    "c": (561, 955, 57.5, 345),
    "b": (111, 505, 411, 700),
    "d": (561, 955, 412.5, 700),
}
order = ["a", "c", "b", "d"]  # axis indices 1..4

# each panel: list of (xs, ys, marker size) point groups, and its fitted line
panel_data = {
    "a": ([collect(a_points, a_rows) + (3.6,)], (a_fit_x, a_fit_y)),
    "c": ([collect(c_points) + (3.6,)], (c_fit_x, c_fit_y)),
    "b": ([collect(b_points, b_rows) + (4.0,), collect([], b_core_rows) + (5.2,)], (b_fit_x, b_fit_y)),
    "d": ([d_main + (4.0,), collect([], d_core_rows) + (4.5,)], (d_fit_x, d_fit_y)),
}

fig = go.Figure()
layout = dict(
    width=W, height=H, margin=dict(l=0, r=0, t=0, b=0, pad=0, autoexpand=False),
    paper_bgcolor="white", plot_bgcolor="white", showlegend=False,
    font=dict(family=FONT, color="black", size=19),
)

for i, key in enumerate(order, start=1):
    l, r, t, b = boxes[key]
    xdom = [l / W, r / W]
    ydom = [1 - b / H, 1 - t / H]
    zero_pos = ydom[0] + (0 - Y_MIN) / (Y_MAX - Y_MIN) * (ydom[1] - ydom[0])
    groups, (fx, fy) = panel_data[key]
    xn = "x" if i == 1 else f"x{i}"
    yn = "y" if i == 1 else f"y{i}"
    zx = f"x{i + 4}"
    for xs, ys, size in groups:
        fig.add_trace(go.Scatter(x=xs, y=ys, mode="markers", xaxis=xn, yaxis=yn,
                                 marker=dict(size=size, color="black", line=dict(width=0)),
                                 hoverinfo="skip"))
    fig.add_trace(go.Scatter(x=fx, y=fy, mode="lines", xaxis=zx, yaxis=yn,
                             line=dict(color="black", width=2), hoverinfo="skip"))
    bottom = key in ("b", "d")
    left = key in ("a", "b")
    # the right-hand "10000" sits flush against the page edge: pad it so it stays inside
    ticktext = x_ticktext[:-1] + [x_ticktext[-1] + "\u00a0\u00a0"] if key == "d" else x_ticktext
    layout["xaxis" if i == 1 else f"xaxis{i}"] = dict(
        type="log", range=[0, 4], domain=xdom, anchor=yn, showline=False, showgrid=False,
        zeroline=False, tickvals=x_tickvals, ticktext=ticktext, showticklabels=bottom,
        ticks="outside", ticklen=13, tickcolor="rgba(0,0,0,0)", automargin=False,
        ticklabeloverflow="allow", tickfont=dict(size=18.5, family=FONT, color="black"),
    )
    layout["yaxis" if i == 1 else f"yaxis{i}"] = dict(
        range=[Y_MIN, Y_MAX], domain=ydom, anchor=xn, showline=True, linecolor="black",
        linewidth=2, ticks="inside", ticklen=10, tickwidth=1.5, tickcolor="black",
        tickvals=y_tickvals, ticktext=(y_ticktext_top if key == "a" else y_ticktext_bottom),
        showticklabels=left, showgrid=False, zeroline=False, ticklabelstandoff=6,
        automargin=False, tickfont=dict(size=19, family=FONT, color="black"),
    )
    layout[f"xaxis{i + 4}"] = dict(
        type="log", range=[0, 4], overlaying=xn, anchor="free", position=zero_pos,
        showline=True, linecolor="black", linewidth=2, ticks="inside", ticklen=10,
        tickwidth=1.5, tickcolor="black", tickvals=x_tickvals[1:], showticklabels=False,
        showgrid=False, zeroline=False, automargin=False,
    )

ann = []
for txt, x, y in [("a", 11, 19), ("b", 11, 392), ("c", 560, 19), ("d", 560, 392)]:
    ann.append(dict(text=f"<b>{txt}</b>", x=x / W, y=1 - y / H, xref="paper", yref="paper",
                    xanchor="left", yanchor="middle", showarrow=False,
                    font=dict(size=22, family=FONT, color="black")))
ann.append(dict(text="<i>D. magna</i>", x=318 / W, y=1 - 24 / H, xref="paper", yref="paper",
                xanchor="center", yanchor="middle", showarrow=False, font=dict(size=19, family=FONT)))
ann.append(dict(text="<i>D.longispina</i>", x=755 / W, y=1 - 24 / H, xref="paper", yref="paper",
                xanchor="center", yanchor="middle", showarrow=False, font=dict(size=19, family=FONT)))
for txt, yc in [("Within-island<br>pairwise <i>F</i><sub>PT</sub>", (54.5 + 343.5) / 2),
                ("Between-island<br>pairwise <i>F</i><sub>PT</sub>", (411 + 700) / 2)]:
    ann.append(dict(text=txt, x=39 / W, y=1 - yc / H, xref="paper", yref="paper", textangle=-90,
                    xanchor="center", yanchor="middle", showarrow=False,
                    font=dict(size=20, family=FONT, color="black")))
for xc in [(111 + 505) / 2, (561 + 955) / 2]:
    ann.append(dict(text="Distance (m)", x=xc / W, y=1 - 755 / H, xref="paper", yref="paper",
                    xanchor="center", yanchor="middle", showarrow=False,
                    font=dict(size=21, family=FONT, color="black")))
layout["annotations"] = ann

fig.update_layout(**layout)
# remove the page's default body margin so the 978x770 figure fills the window exactly
fig.write_html("out.html", config={"displayModeBar": False},
               post_script="document.body.style.margin='0';document.body.style.overflow='hidden';")
